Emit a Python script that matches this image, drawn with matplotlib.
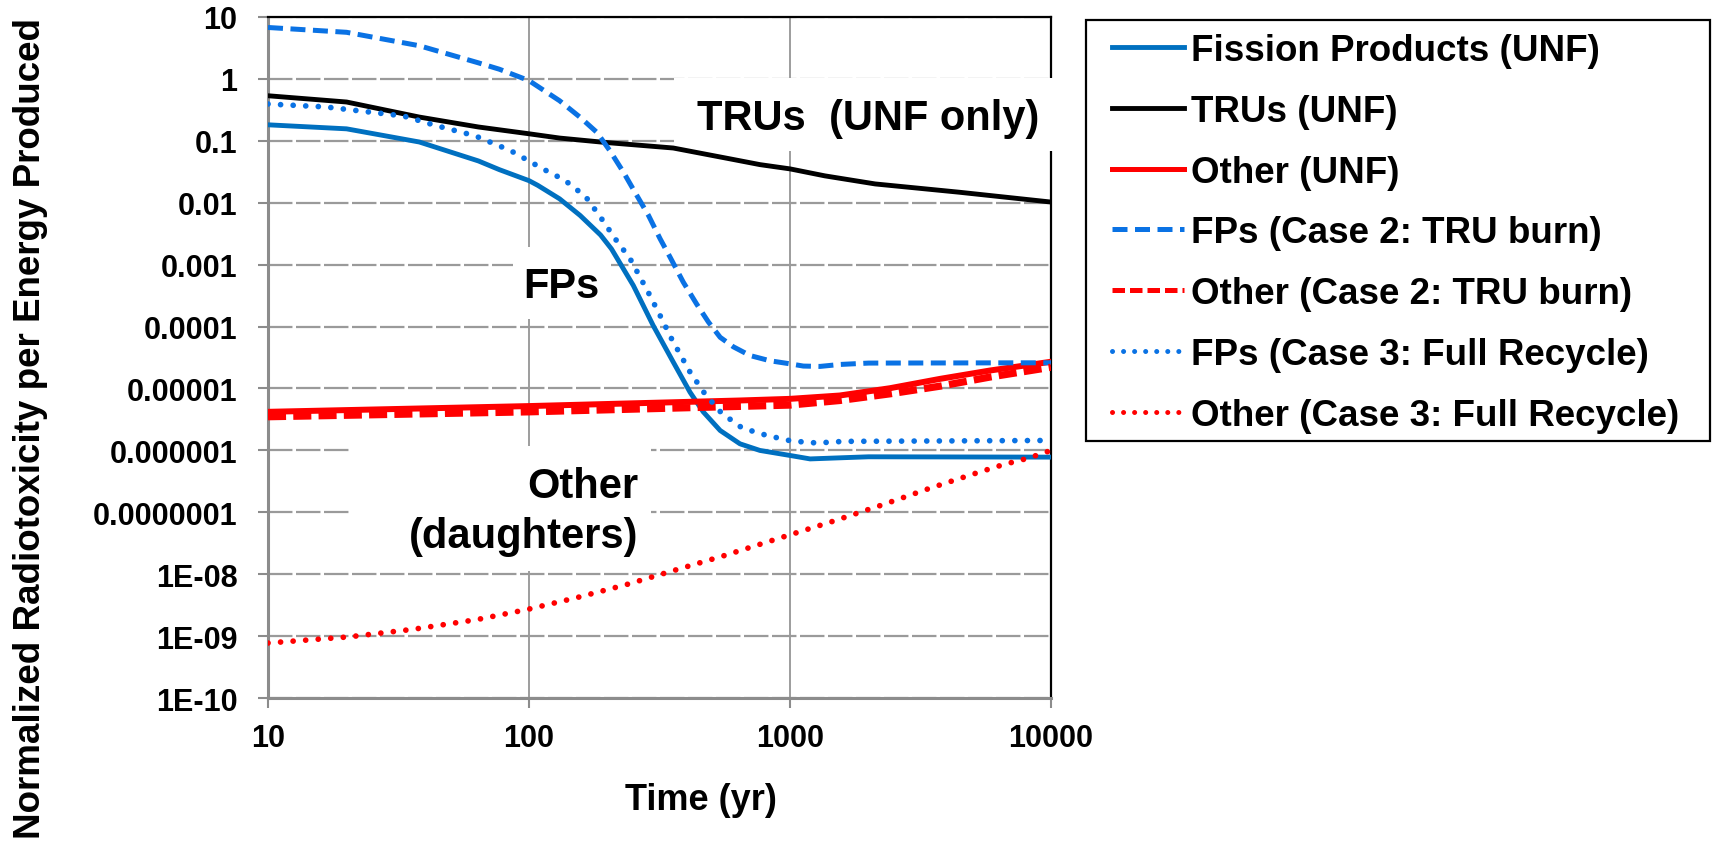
import matplotlib
matplotlib.use("Agg")
import matplotlib.pyplot as plt
from matplotlib.lines import Line2D
from matplotlib.patches import Rectangle
from matplotlib.ticker import FixedLocator, FixedFormatter, NullLocator

plt.rcParams['font.family'] = ['Liberation Sans', 'DejaVu Sans']
plt.rcParams['font.weight'] = 'bold'

# ---------------- data ----------------
t_fp_unf = [10, 20, 38, 64, 77, 100, 108, 131, 157, 188, 207, 251, 299, 357, 414, 465,
            540, 643, 767, 1000, 1194, 1550, 2000, 10000]
fp_unf = [0.18, 0.155, 0.095, 0.047, 0.034, 0.0226, 0.019, 0.0115, 0.0062, 0.003, 1.79e-3,
          4.6e-4, 1.04e-4, 2.67e-5, 8.7e-6, 4.2e-6, 2.1e-6, 1.28e-6, 1.0e-6,
          8.3e-7, 7.3e-7, 7.6e-7, 7.9e-7, 7.8e-7]

t_tru_unf = [10, 20, 38, 64, 100, 131, 193, 357, 586, 767, 1000, 1360, 2120, 4450, 10000]
tru_unf = [0.53, 0.42, 0.24, 0.166, 0.129, 0.11, 0.094, 0.076, 0.051, 0.041,
           0.035, 0.027, 0.020, 0.0147, 0.0102]

t_other_unf = [10, 100, 643, 1000, 1550, 2415, 3760, 5840, 10000]
other_unf = [4.2e-6, 5.2e-6, 6.4e-6, 6.8e-6, 7.7e-6, 1.01e-5, 1.43e-5, 1.95e-5, 2.7e-5]

t_fp_c2 = [10, 20, 38, 64, 77, 100, 131, 157, 182, 204, 230, 259, 287, 318, 347,
           390, 439, 487, 540, 607, 703, 838, 1000, 1125, 1303, 1550, 2000, 10000]
fp_c2 = [6.7, 5.6, 3.4, 1.8, 1.42, 0.93, 0.44, 0.238, 0.136, 0.069, 0.031, 0.013,
         0.0062, 2.6e-3, 1.32e-3, 5.2e-4, 2.3e-4, 1.18e-4, 6.7e-5, 4.7e-5, 3.4e-5,
         2.8e-5, 2.5e-5, 2.3e-5, 2.27e-5, 2.44e-5, 2.57e-5, 2.6e-5]

t_other_c2 = [10, 100, 1000, 1550, 2415, 3760, 5840, 10000]
other_c2 = [3.5e-6, 4.2e-6, 5.4e-6, 6.4e-6, 8.2e-6, 1.09e-5, 1.53e-5, 2.2e-5]

t_fp_c3 = [10, 16.6, 33, 44, 62, 85, 113, 137, 165, 188, 214, 244, 286, 318, 352,
           414, 472, 547, 656, 814, 1013, 1265, 1600, 10000]
fp_c3 = [0.39, 0.35, 0.25, 0.175, 0.12, 0.069, 0.035, 0.023, 0.0124, 0.0058,
         0.0026, 1.24e-3, 3.6e-4, 1.5e-4, 6.3e-5, 1.84e-5, 8.2e-6, 4.0e-6, 2.3e-6,
         1.75e-6, 1.42e-6, 1.32e-6, 1.4e-6, 1.45e-6]

t_other_c3 = [10, 20.4, 36, 63, 98, 152, 235, 360, 558, 956, 1462, 2265, 3450,
              5250, 6560, 8180, 10000]
other_c3 = [7.8e-10, 9.8e-10, 1.3e-9, 1.86e-9, 2.7e-9, 4.2e-9, 6.8e-9, 1.16e-8,
            2.0e-8, 4.1e-8, 7.2e-8, 1.33e-7, 2.47e-7, 4.4e-7, 5.9e-7, 7.5e-7, 1.0e-6]

series_labels = ["Fission Products (UNF)", "TRUs (UNF)", "Other (UNF)",
                 "FPs (Case 2: TRU burn)", "Other (Case 2: TRU burn)",
                 "FPs (Case 3: Full Recycle)", "Other (Case 3: Full Recycle)"]

x_ticks = [10, 100, 1000, 10000]
x_ticklabels = ["10", "100", "1000", "10000"]
y_ticks = [10, 1, 0.1, 0.01, 0.001, 1e-4, 1e-5, 1e-6, 1e-7, 1e-8, 1e-9, 1e-10]
y_ticklabels = ["10", "1", "0.1", "0.01", "0.001", "0.0001", "0.00001",
                "0.000001", "0.0000001", "1E-08", "1E-09", "1E-10"]

# ---------------- styles ----------------
BLUE = '#0070C0'
BLUE2 = '#0A72E4'
RED = '#FF0000'
styles = [
    dict(color=BLUE, lw=3.5, ls='-'),
    dict(color='black', lw=3.5, ls='-'),
    dict(color=RED, lw=4.3, ls='-'),
    dict(color=BLUE2, lw=3.6, ls=(0, (3.0, 1.5))),
    dict(color=RED, lw=5.2, ls=(0, (2.5, 1.0))),
    dict(color=BLUE2, lw=4.1, ls=(0, (0.01, 2.2)), dash_capstyle='round'),
    dict(color=RED, lw=4.1, ls=(0, (0.01, 2.2)), dash_capstyle='round'),
]
data = [(t_fp_unf, fp_unf), (t_tru_unf, tru_unf), (t_other_unf, other_unf),
        (t_fp_c2, fp_c2), (t_other_c2, other_c2), (t_fp_c3, fp_c3),
        (t_other_c3, other_c3)]

W, H = 1712, 845
fig = plt.figure(figsize=(W / 100, H / 100), dpi=100)
L, R, T, B = 268, 1051, 17.7, 699.3
ax = fig.add_axes([L / W, (H - B) / H, (R - L) / W, (B - T) / H])

for (tx, vy), st, lab in zip(data, styles, series_labels):
    st = dict(st)
    ax.plot(tx, vy, color=st.pop('color'), linewidth=st.pop('lw'),
            linestyle=st.pop('ls'), label=lab, zorder=3,
            solid_joinstyle='round', **st)

ax.set_xscale('log')
ax.set_yscale('log')
ax.set_xlim(10, 10000)
ax.set_ylim(1e-10, 10)
ax.xaxis.set_major_locator(FixedLocator(x_ticks))
ax.xaxis.set_major_formatter(FixedFormatter(x_ticklabels))
ax.yaxis.set_major_locator(FixedLocator(y_ticks))
ax.yaxis.set_major_formatter(FixedFormatter(y_ticklabels))
ax.xaxis.set_minor_locator(NullLocator())
ax.yaxis.set_minor_locator(NullLocator())

GRID = '#9A9A9A'
ax.set_axisbelow(True)
ax.yaxis.grid(True, color=GRID, lw=1.6, linestyle=(0, (11, 1.6)))
ax.xaxis.grid(True, color='#8C8C8C', lw=1.2, linestyle='-')

ax.tick_params(axis='both', which='major', direction='out', length=7,
               width=1.5, color='#8C8C8C', labelsize=22)
ax.tick_params(axis='y', pad=15)
ax.tick_params(axis='x', pad=11)
for lab in ax.get_xticklabels() + ax.get_yticklabels():
    lab.set_fontweight('bold')

for s in ['left', 'bottom']:
    ax.spines[s].set_color('#8C8C8C')
    ax.spines[s].set_linewidth(2.2)
for s in ['top', 'right']:
    ax.spines[s].set_color('black')
    ax.spines[s].set_linewidth(1.6)

# white text boxes (they hide the grid behind them)
for (x0, y0, x1, y1) in [(0.5185, 0.803, 1.008, 0.910),
                         (0.313, 0.5565, 0.438, 0.662),
                         (0.107, 0.1868, 0.489, 0.370)]:
    ax.add_patch(Rectangle((x0, y0), x1 - x0, y1 - y0, transform=ax.transAxes,
                           facecolor='white', edgecolor='none', zorder=2.6,
                           clip_on=False))

ax.text(0.548, 0.8352, "TRUs  (UNF only)", transform=ax.transAxes, fontsize=30,
        fontweight='bold', ha='left', va='baseline', zorder=2.7)
ax.text(0.3257, 0.5888, "FPs", transform=ax.transAxes, fontsize=30,
        fontweight='bold', ha='left', va='baseline', zorder=2.7)
ax.text(0.4725, 0.2949, "Other", transform=ax.transAxes, fontsize=30,
        fontweight='bold', ha='right', va='baseline', zorder=2.7)
ax.text(0.4725, 0.2215, "(daughters)", transform=ax.transAxes, fontsize=30,
        fontweight='bold', ha='right', va='baseline', zorder=2.7)

fig.text(30.6 / W, (H - 428.5) / H, "Normalized Radiotoxicity per Energy Produced",
         rotation=90, ha='center', va='center', fontsize=26.5, fontweight='bold')
fig.text(701 / W, (H - 810) / H, "Time (yr)", ha='center', va='baseline',
         fontsize=26, fontweight='bold')

# legend
handles = []
for st, lab in zip(styles, series_labels):
    st = dict(st)
    lw = min(st.pop('lw'), 3.6)
    handles.append(Line2D([], [], color=st.pop('color'), linewidth=lw,
                          linestyle=st.pop('ls'), label=lab, **st))
leg = fig.legend(handles=handles, loc='upper left',
                 bbox_to_anchor=(1112 / W, (H - 34) / H),
                 bbox_transform=fig.transFigure, frameon=False, borderpad=0,
                 borderaxespad=0, handlelength=1.95, handletextpad=0.2,
                 labelspacing=0.70, prop=dict(size=26.5, weight='bold'))
fig.patches.append(Rectangle((1086 / W, (H - 442) / H), (1710 - 1086) / W,
                             (442 - 21) / H, transform=fig.transFigure,
                             facecolor='none', edgecolor='black', linewidth=1.6))

fig.savefig("out.png", dpi=100)
